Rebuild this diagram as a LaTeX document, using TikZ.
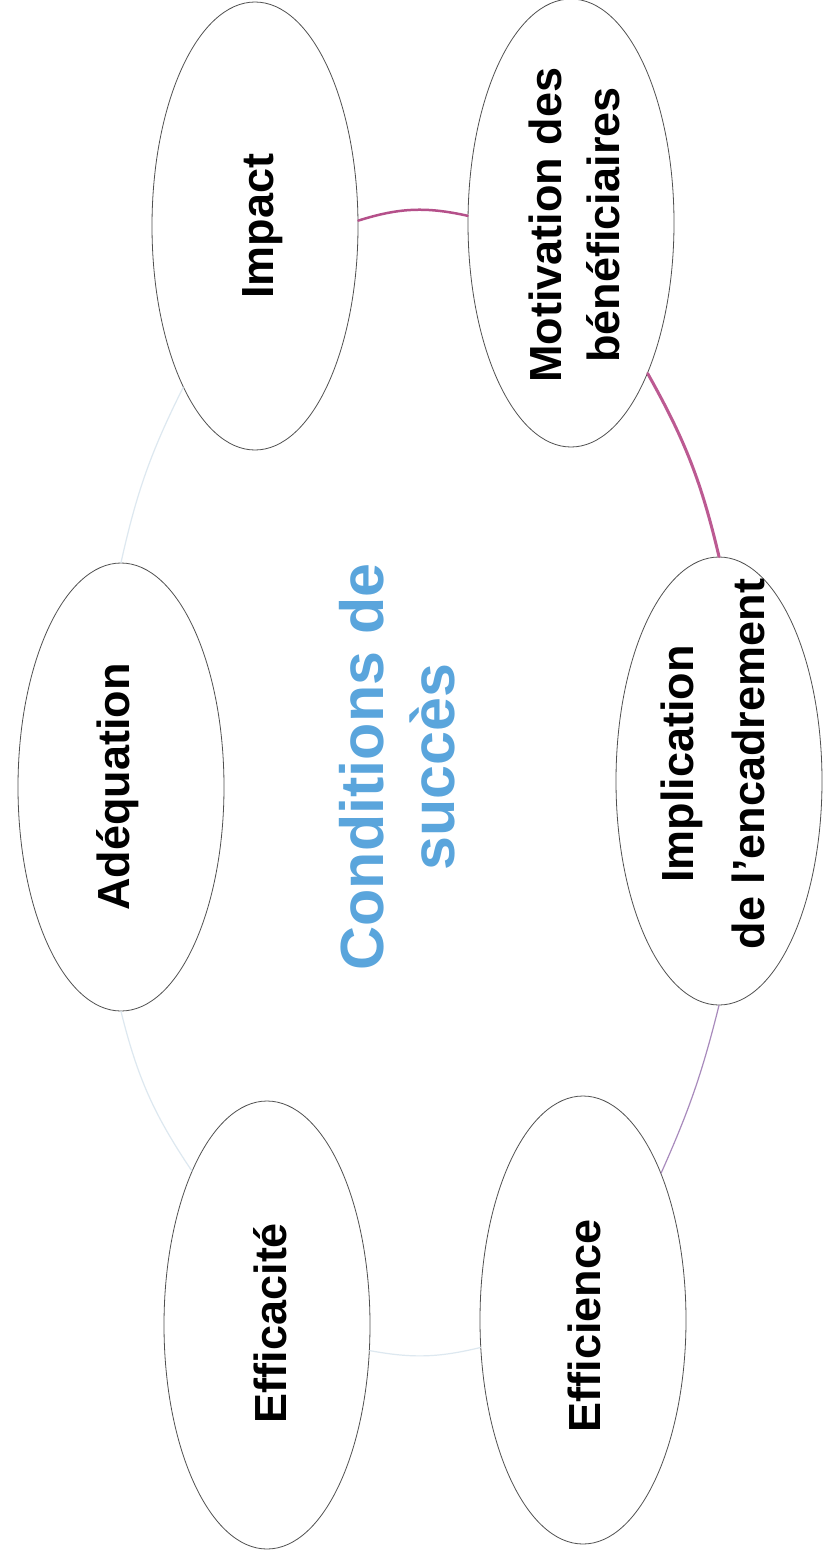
\documentclass[tikz,border=0pt]{standalone}
\usepackage{fontspec}
\setmainfont{Liberation Sans}
\usetikzlibrary{shapes.geometric}

\definecolor{bubbleline}{HTML}{505050}
\definecolor{titleblue}{HTML}{5AA5DC}
\definecolor{pinkA}{HTML}{B5508A}
\definecolor{pinkB}{HTML}{BC5A92}
\definecolor{pinkC}{HTML}{A88ABC}
\definecolor{ringfaint}{HTML}{DDE8F0}

\tikzset{
  bubble/.style={ellipse, draw=bubbleline, line width=0.8pt, fill=white,
    minimum width=206pt, minimum height=448pt, inner sep=0pt},
  txt/.style={rotate=90, align=center, inner sep=0pt,
    font=\bfseries\fontsize{45}{58}\selectfont},
  ctr/.style={txt, text=titleblue, font=\bfseries\fontsize{61}{71}\selectfont},
  ring/.style={line width=#1, line cap=round},
}

\begin{document}
\begin{tikzpicture}[x=1pt,y=1pt]
  \useasboundingbox[fill=white] (0,0) rectangle (823,-1561);

  % bubbles
  \node[bubble] (impact)     at (255,-226)  {};
  \node[bubble] (motiv)      at (571,-223)  {};
  \node[bubble] (implic)     at (719,-781)  {};
  \node[bubble] (efficience) at (583,-1320) {};
  \node[bubble] (efficacite) at (267,-1325) {};
  \node[bubble] (adequation) at (121,-787)  {};

  % texts
  \node[txt] (impact-t)     at (263,-226)  {Impact};
  \node[txt] (motiv-t)      at (574,-225)  {Motivation des\\bénéficiaires};
  \node[txt, font=\bfseries\fontsize{45}{71}\selectfont]
             (implic-t)     at (713,-764)  {Implication\\de l’encadrement};
  \node[txt] (efficience-t) at (584,-1326) {Efficience};
  \node[txt] (efficacite-t) at (270,-1323) {Efficacité};
  \node[txt] (adequation-t) at (118,-787)  {Adéquation};
  \node[ctr] (centre)       at (397,-767)  {Conditions de\\succès};

  % ring
  \draw[ring=2.5pt, pinkA] (impact.3) to[bend left=15] (motiv.176);
  \draw[ring=3pt, pinkB] (motiv.-63) to[bend left=8] (implic.north);
  \draw[ring=1.2pt, pinkC] (implic.south) to[bend left=5] (efficience.62);
  \draw[ring=1.2pt, ringfaint] (efficience.195) to[bend left=12] (efficacite.-14);
  \draw[ring=1.2pt, ringfaint] (efficacite.116) to[bend left=10] (adequation.south);
  \draw[ring=1.2pt, ringfaint] (adequation.north) to[bend left=7] (impact.246);
\end{tikzpicture}
\end{document}
